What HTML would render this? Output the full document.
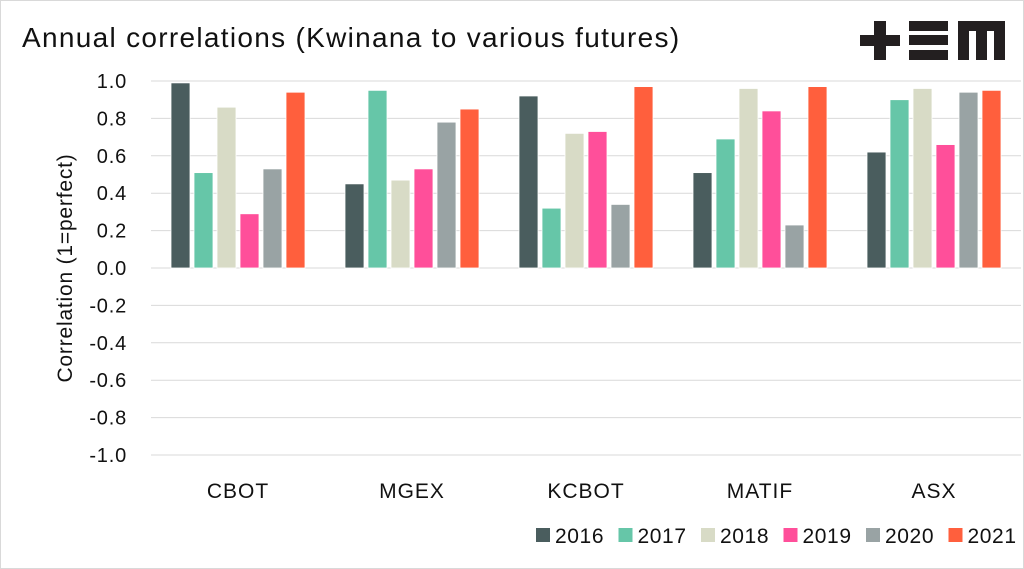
<!DOCTYPE html>
<html><head><meta charset="utf-8"><style>
body{margin:0;background:#fff;}
svg{display:block;font-family:"Liberation Sans",sans-serif;}
</style></head><body>
<svg id="c" width="1024" height="569" xmlns="http://www.w3.org/2000/svg">
<rect x="0.5" y="0.5" width="1023" height="568" fill="#fff" stroke="#d9d9d9"/>
<text x="22" y="47" font-size="28" letter-spacing="1.3" fill="#111">Annual correlations (Kwinana to various futures)</text>
<g fill="#231f20">
<rect x="860" y="35" width="40" height="11"/><rect x="874" y="21" width="12" height="39"/>
<rect x="909" y="21" width="39" height="10"/><rect x="909" y="35" width="39" height="10"/><rect x="909" y="50" width="39" height="10"/>
<path d="M958 21h47v39h-11v-29h-7v29h-11v-29h-7v29h-11z"/>
</g>
<text transform="translate(72,268) rotate(-90)" text-anchor="middle" font-size="21" letter-spacing="0.8" fill="#111">Correlation (1=perfect)</text>
<g id="grid"></g><g id="bars"></g><g id="legend"></g>
</svg>
<script>
const categories=["CBOT","MGEX","KCBOT","MATIF","ASX"];
const seriesNames=["2016","2017","2018","2019","2020","2021"];
const s2016=[0.99,0.45,0.92,0.51,0.62];
const s2017=[0.51,0.95,0.32,0.69,0.90];
const s2018=[0.86,0.47,0.72,0.96,0.96];
const s2019=[0.29,0.53,0.73,0.84,0.66];
const s2020=[0.53,0.78,0.34,0.23,0.94];
const s2021=[0.94,0.85,0.97,0.97,0.95];
const yTicks=[1.0,0.8,0.6,0.4,0.2,0.0,-0.2,-0.4,-0.6,-0.8,-1.0];
const series=[s2016,s2017,s2018,s2019,s2020,s2021];
const colors=["#4a5d5e","#66c6a8","#d8dbc6","#ff4f9a","#99a3a4","#ff5f3d"];
const NS="http://www.w3.org/2000/svg";
const X0=151,X1=1021,Y0=268,SC=187;
const y=v=>Y0-v*SC;
const bandW=(X1-X0)/categories.length;
const xc=i=>X0+bandW*(i+0.5);
function mk(t,a,p){const e=document.createElementNS(NS,t);for(const k in a)e.setAttribute(k,a[k]);p.appendChild(e);return e;}
const grid=document.getElementById('grid');
yTicks.forEach(t=>{
  const l=mk('line',{x1:X0,x2:X1,y1:y(t),y2:y(t),stroke:'#d9d9d9','stroke-width':1},grid);
  
  
  const tx=mk('text',{x:127,y:y(t)+7,'text-anchor':'end','font-size':20,'letter-spacing':0.8,fill:'#111'},grid);
  tx.textContent=t.toFixed(1);
  
  
});
const bars=document.getElementById('bars');
const step=23,bw=19;
categories.forEach((c,i)=>{
  series.forEach((s,j)=>{
    const v=s[i];
    const x=xc(i)-step*3+j*step+(step-bw)/2;
    const r=mk('rect',{x:x,y:Math.min(y(v),Y0),width:bw,height:Math.abs(y(v)-Y0),fill:colors[j],stroke:'#fff','stroke-width':0.8},bars);
    
    
  });
  const t=mk('text',{x:xc(i),y:498,'text-anchor':'middle','font-size':21,'letter-spacing':1,fill:'#111'},bars);
  t.textContent=c;
  
  
});
const lg=document.getElementById('legend');
seriesNames.forEach((n,j)=>{
  const lx=536+j*82.5;
  const g=mk('g',{},lg);
  
  
  mk('rect',{x:lx,y:528,width:14,height:14,fill:colors[j]},g);
  const t=mk('text',{x:lx+19,y:543,'font-size':21,'letter-spacing':0.6,fill:'#111'},g);
  t.textContent=n;
});
</script>
</body></html>
